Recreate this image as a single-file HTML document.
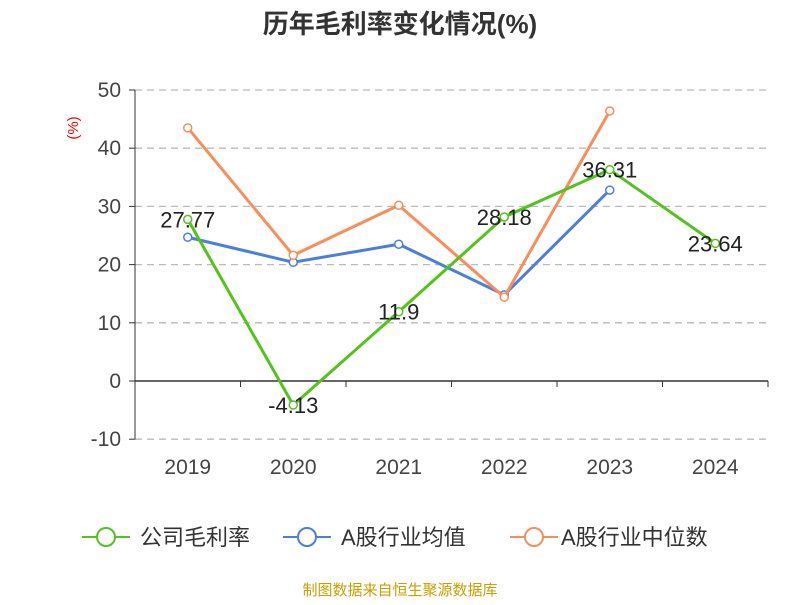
<!DOCTYPE html>
<html><head><meta charset="utf-8"><style>
body{margin:0;background:#fff;font-family:"Liberation Sans","Noto Sans CJK SC",sans-serif}
</style></head><body>
<svg id="chart" width="800" height="600" xmlns="http://www.w3.org/2000/svg" font-family="Liberation Sans, Noto Sans CJK SC, sans-serif">
<text x="400" y="33" text-anchor="middle" font-size="26" font-weight="bold" fill="#333">历年毛利率变化情况(%)</text>
<text x="78" y="128" font-size="15" fill="#e00" transform="rotate(-90 78 128)" text-anchor="middle">(%)</text>
<g id="grid"></g><g id="axes"></g><g id="series"></g>
<g>
<g><line x1="82" y1="537" x2="130" y2="537" stroke="#52c41a" stroke-width="2"/><circle cx="106" cy="537" r="9" fill="#fff" stroke="#52c41a" stroke-width="2"/><text x="140" y="545" font-size="22" fill="#333">公司毛利率</text></g>
<g><line x1="283" y1="537" x2="331" y2="537" stroke="#4a7fe0" stroke-width="2"/><circle cx="307" cy="537" r="9" fill="#fff" stroke="#4a7fe0" stroke-width="2"/><text x="341" y="545" font-size="22" fill="#333">A股行业均值</text></g>
<g><line x1="510" y1="537" x2="558" y2="537" stroke="#f98d5b" stroke-width="2"/><circle cx="534" cy="537" r="9" fill="#fff" stroke="#f98d5b" stroke-width="2"/><text x="561" y="545" font-size="22" fill="#333">A股行业中位数</text></g>
</g>
<text x="400" y="595" text-anchor="middle" font-size="15" fill="#c8a000">制图数据来自恒生聚源数据库</text>
</svg>
<script>
const years=["2019","2020","2021","2022","2023","2024"];
const company=[27.77,-4.13,11.9,28.18,36.31,23.64];
const industryMean=[24.7,20.4,23.5,14.8,32.8,null];
const industryMedian=[43.5,21.6,30.2,14.4,46.4,null];
const yTicks=[-10,0,10,20,30,40,50];
const NS="http://www.w3.org/2000/svg";
const x0=135,x1=768,band=(x1-x0)/6;
const xs=i=>x0+band*(i+0.5);
const ys=v=>381-v*5.82;
function mk(t,a,p){const e=document.createElementNS(NS,t);for(const k in a)e.setAttribute(k,a[k]);p.appendChild(e);return e;}
const grid=document.getElementById('grid'),axes=document.getElementById('axes'),ser=document.getElementById('series');
yTicks.forEach(v=>{
 if(v!==0){const l=mk('line',{x1:x0,x2:x1,y1:ys(v),y2:ys(v),stroke:'#bbb','stroke-dasharray':'7,5','stroke-width':1.3},grid);
 
 }
 const t=mk('text',{x:x0-14,y:ys(v)+7,'text-anchor':'end','font-size':21,fill:'#444'},axes);t.textContent=v;
 
 
 mk('line',{x1:x0-6,x2:x0,y1:ys(v),y2:ys(v),stroke:'#333'},axes);
});
const ya=mk('line',{x1:x0,x2:x0,y1:ys(50),y2:ys(-10),stroke:'#333'},axes);


const xa=mk('line',{x1:x0,x2:x1,y1:ys(0),y2:ys(0),stroke:'#333','stroke-width':1.5},axes);


for(let i=0;i<=6;i++)mk('line',{x1:x0+band*i,x2:x0+band*i,y1:ys(0),y2:ys(0)+6,stroke:'#333'},axes);
years.forEach((y,i)=>{const t=mk('text',{x:xs(i),y:474,'text-anchor':'middle','font-size':21,fill:'#444'},axes);t.textContent=y;
 
 });
function draw(vals,color,name,labels){
 const pts=vals.map((v,i)=>v==null?null:[xs(i),ys(v)]).filter(p=>p);
 const pl=mk('polyline',{points:pts.map(p=>p.join(',')).join(' '),fill:'none',stroke:color,'stroke-width':3},ser);
 
 
 vals.forEach((v,i)=>{if(v==null)return;
  const c=mk('circle',{cx:xs(i),cy:ys(v),r:4,fill:'#fff',stroke:color,'stroke-width':1.5},ser);
  
  
  if(labels){const t=mk('text',{x:xs(i),y:ys(v)+8,'text-anchor':'middle','font-size':22,fill:'#222'},ser);t.textContent=v;
   
   }
 });
}
draw(industryMean,'#4a7fe0','industry-mean',false);
draw(industryMedian,'#f98d5b','industry-median',false);
draw(company,'#52c41a','company',true);
</script>
</body></html>
